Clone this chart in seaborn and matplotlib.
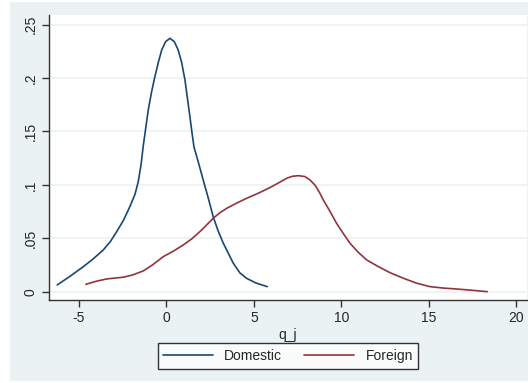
import numpy as np
import pandas as pd
import matplotlib.pyplot as plt
import seaborn as sns
from matplotlib.patches import Rectangle

# Curvas de densidad
dom_x = [-6.24, -5.5, -4.75, -4.2, -3.61, -3.2, -2.85, -2.45, -2.09, -1.8, -1.61, -1.45, -1.33, -1.18, -1.04, -0.85,
         -0.66, -0.45, -0.27, -0.05, 0.2, 0.45, 0.67, 0.87, 1.06, 1.2, 1.34, 1.45, 1.57, 1.85, 2.1, 2.4, 2.67,
         2.95, 3.25, 3.63, 3.82, 4.2, 4.58, 5.1, 5.76]
dom_y = [0.0063, 0.0145, 0.0234, 0.0305, 0.039, 0.047, 0.056, 0.067, 0.0796, 0.091, 0.103, 0.119, 0.1358, 0.1535,
         0.170, 0.187, 0.2013, 0.2155, 0.2263, 0.234, 0.2372, 0.234, 0.2263, 0.2145, 0.198, 0.181, 0.1639, 0.150,
         0.1358, 0.1195, 0.1046, 0.087, 0.0702, 0.057, 0.0453, 0.0328, 0.0266, 0.0175, 0.0125, 0.0082, 0.0047]

for_x = [-4.6, -4.0, -3.42, -2.9, -2.47, -1.9, -1.33, -0.8, -0.18, 0.4, 0.96, 1.45, 1.91, 2.3, 2.67, 3.05, 3.44,
         4.0, 4.58, 5.25, 5.91, 6.4, 6.87, 7.2, 7.53, 7.9, 8.2, 8.5, 8.77, 8.96, 9.35, 9.72, 10.1, 10.49, 10.95,
         11.44, 12.1, 12.77, 13.5, 14.3, 15.06, 15.8, 16.58, 17.4, 18.33]
for_y = [0.0069, 0.0098, 0.0119, 0.0128, 0.0135, 0.0158, 0.0194, 0.025, 0.0328, 0.038, 0.0437, 0.0495, 0.0562, 0.0625,
         0.0687, 0.0738, 0.078, 0.0828, 0.0874, 0.0922, 0.0974, 0.1018, 0.1062, 0.108, 0.1086, 0.1078, 0.1046, 0.0995,
         0.0921, 0.0859, 0.075, 0.064, 0.0545, 0.0453, 0.037, 0.0297, 0.0235, 0.0178, 0.0128, 0.0079, 0.0047, 0.0034,
         0.0025, 0.0014, 0.0]

x_ticks = [-5, 0, 5, 10, 15, 20]
y_ticks = [0, 0.05, 0.1, 0.15, 0.2, 0.25]
y_labels = ["0", ".05", ".1", ".15", ".2", ".25"]

df = pd.concat([
    pd.DataFrame({"q_j": dom_x, "dens": dom_y, "grupo": "Domestic"}),
    pd.DataFrame({"q_j": for_x, "dens": for_y, "grupo": "Foreign"}),
])

sns.set_style("white")
plt.rcParams["font.family"] = ["Liberation Sans", "DejaVu Sans"]
plt.rcParams["font.size"] = 10
plt.rcParams["axes.unicode_minus"] = False
plt.rcParams["lines.solid_joinstyle"] = "round"

fig = plt.figure(figsize=(5.28, 3.83), dpi=100)
fig.patch.set_facecolor("white")
fig.patches.append(Rectangle((10 / 528, 2 / 383), 518 / 528, 379 / 383, transform=fig.transFigure,
                             facecolor="#EAF2F3", edgecolor="none", zorder=-10))

ax = fig.add_axes([49 / 528, 83 / 383, 478 / 528, 285 / 383])
ax.set_facecolor("white")
for y in y_ticks:
    ax.axhline(y, color="#EAF2F3", lw=1.2, zorder=0)

sns.lineplot(data=df, x="q_j", y="dens", hue="grupo", palette=["#1A476F", "#90353B"],
             sort=False, lw=1.2, ax=ax, legend=False, estimator=None)

ax.set_xlim(-6.71, 20.6)
ax.set_ylim(-0.0078, 0.259)
ax.set_xticks(x_ticks)
ax.set_yticks(y_ticks)
ax.set_yticklabels(y_labels, rotation=90, va="center")
ax.set_xlabel("q_j", labelpad=2)
ax.set_ylabel("")
ax.tick_params(direction="out", length=5, width=1, color="#333333", labelsize=10, pad=3, left=True, bottom=True)

for s in ["top", "right"]:
    ax.spines[s].set_visible(False)
for s in ["left", "bottom"]:
    ax.spines[s].set_color("#333333")
    ax.spines[s].set_linewidth(1)

h1 = plt.Line2D([], [], color="#1A476F", lw=1.2)
h2 = plt.Line2D([], [], color="#90353B", lw=1.2)
leg = fig.legend([h1, h2], ["Domestic", "Foreign"], loc="center", bbox_to_anchor=(288 / 528, 27 / 383),
                 ncol=2, frameon=True, fancybox=False, handlelength=3.6, columnspacing=1.6,
                 borderpad=0.4, handletextpad=0.8, fontsize=10)
leg.get_frame().set_edgecolor("black")
leg.get_frame().set_linewidth(1)
leg.get_frame().set_facecolor("white")

plt.savefig("out.png", dpi=100)
